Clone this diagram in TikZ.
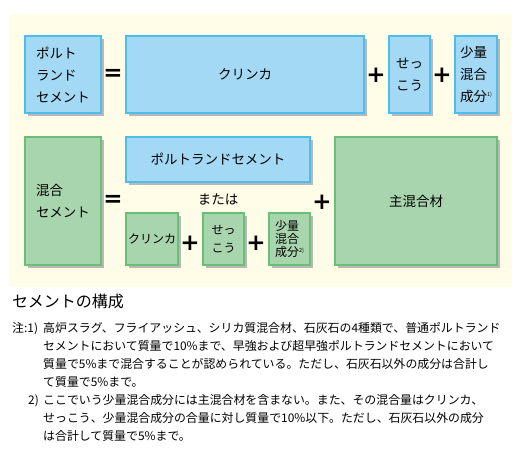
\documentclass[tikz,border=0pt]{standalone}
\usepackage{fontspec}
\setmainfont{Noto Sans CJK JP}
\newfontfamily\opfont{DejaVu Sans}
\usetikzlibrary{shadows}
\definecolor{bgY}{HTML}{FFFDE7}
\definecolor{bFill}{HTML}{A3D9F5}
\definecolor{bLine}{HTML}{4DBDEB}
\definecolor{gFill}{HTML}{A8D5AD}
\definecolor{gLine}{HTML}{68BF78}
\tikzset{
  box/.style={line width=1.3pt, outer sep=0pt, inner sep=0pt, anchor=north west,
    drop shadow={shadow xshift=2.5pt, shadow yshift=-2.5pt, fill=black!28, opacity=1}},
  bluebox/.style={box, fill=bFill, draw=bLine},
  greenbox/.style={box, fill=gFill, draw=gLine},
  big/.style={font=\fontsize{13.5}{22}\selectfont, align=left},
  small/.style={font=\fontsize{12}{18}\selectfont, align=center},
  op/.style={font=\opfont\bfseries\fontsize{23}{23}\selectfont, inner sep=0pt},
  notes/.style={font=\fontsize{11.9}{18.1}\selectfont, align=left, inner sep=0pt, anchor=north west},
}
\begin{document}
\begin{tikzpicture}[x=1pt,y=-1pt]
\useasboundingbox (0,0) rectangle (522,463);
\fill[bgY] (10,14) rectangle (512,287);
% row 1
\node[bluebox, minimum width=76pt, minimum height=77pt, big] (pc) at (25,36) {ポルト\\ランド\\セメント};
\node[bluebox, minimum width=238pt, minimum height=77pt, big] (cl) at (126,36) {クリンカ};
\node[bluebox, minimum width=41pt, minimum height=77pt, big] (ge) at (389,36) {せっ\\こう};
\node[bluebox, minimum width=42pt, minimum height=77pt, big] (mi) at (455,36) {少量\\混合\\成分\raisebox{5pt}{\fontsize{5.5}{5.5}\selectfont 1)}};
\node[op] (eq1) at (113,75) {=};
\node[op] (p1) at (376,75) {+};
\node[op] (p2) at (442,75) {+};
% row 2
\node[greenbox, minimum width=76pt, minimum height=128pt, big] (mc) at (25,137) {混合\\セメント};
\node[bluebox, minimum width=184pt, minimum height=45pt, big] (pc2) at (126,137) {ポルトランドセメント};
\node[big] (or) at (218,199) {または};
\node[greenbox, minimum width=52pt, minimum height=52pt, small] (cl2) at (126,213) {クリンカ};
\node[greenbox, minimum width=41pt, minimum height=52pt, small] (ge2) at (203,213) {せっ\\こう};
\node[greenbox, minimum width=41pt, minimum height=52pt, font=\fontsize{12}{13}\selectfont, align=left] (mi2) at (269,213) {少量\\混合\\成分\raisebox{4pt}{\fontsize{5.5}{5.5}\selectfont 2)}};
\node[greenbox, minimum width=162pt, minimum height=128pt, big] (ma) at (335,137) {主混合材};
\node[op] (eq2) at (113,201) {=};
\node[op] (p3) at (190,243) {+};
\node[op] (p4) at (256,243) {+};
\node[op] (p5) at (322,202) {+};
% caption and notes
\node[font=\fontsize{16}{16}\selectfont, anchor=west, inner sep=0pt] (cap) at (12,301) {セメントの構成};
\node[notes] (n1l) at (12,322) {注:1)};
\node[notes] (n1) at (43,322) {高炉スラグ、フライアッシュ、シリカ質混合材、石灰石の4種類で、普通ポルトランド\\セメントにおいて質量で10\%まで、早強および超早強ポルトランドセメントにおいて\\質量で5\%まで混合することが認められている。ただし、石灰石以外の成分は合計し\\て質量で5\%まで。};
\node[notes] (n2l) at (28,394.4) {2)};
\node[notes] (n2) at (43,394.4) {ここでいう少量混合成分には主混合材を含まない。また、その混合量はクリンカ、\\せっこう、少量混合成分の合量に対し質量で10\%以下。ただし、石灰石以外の成分\\は合計して質量で5\%まで。};
\end{tikzpicture}
\end{document}
